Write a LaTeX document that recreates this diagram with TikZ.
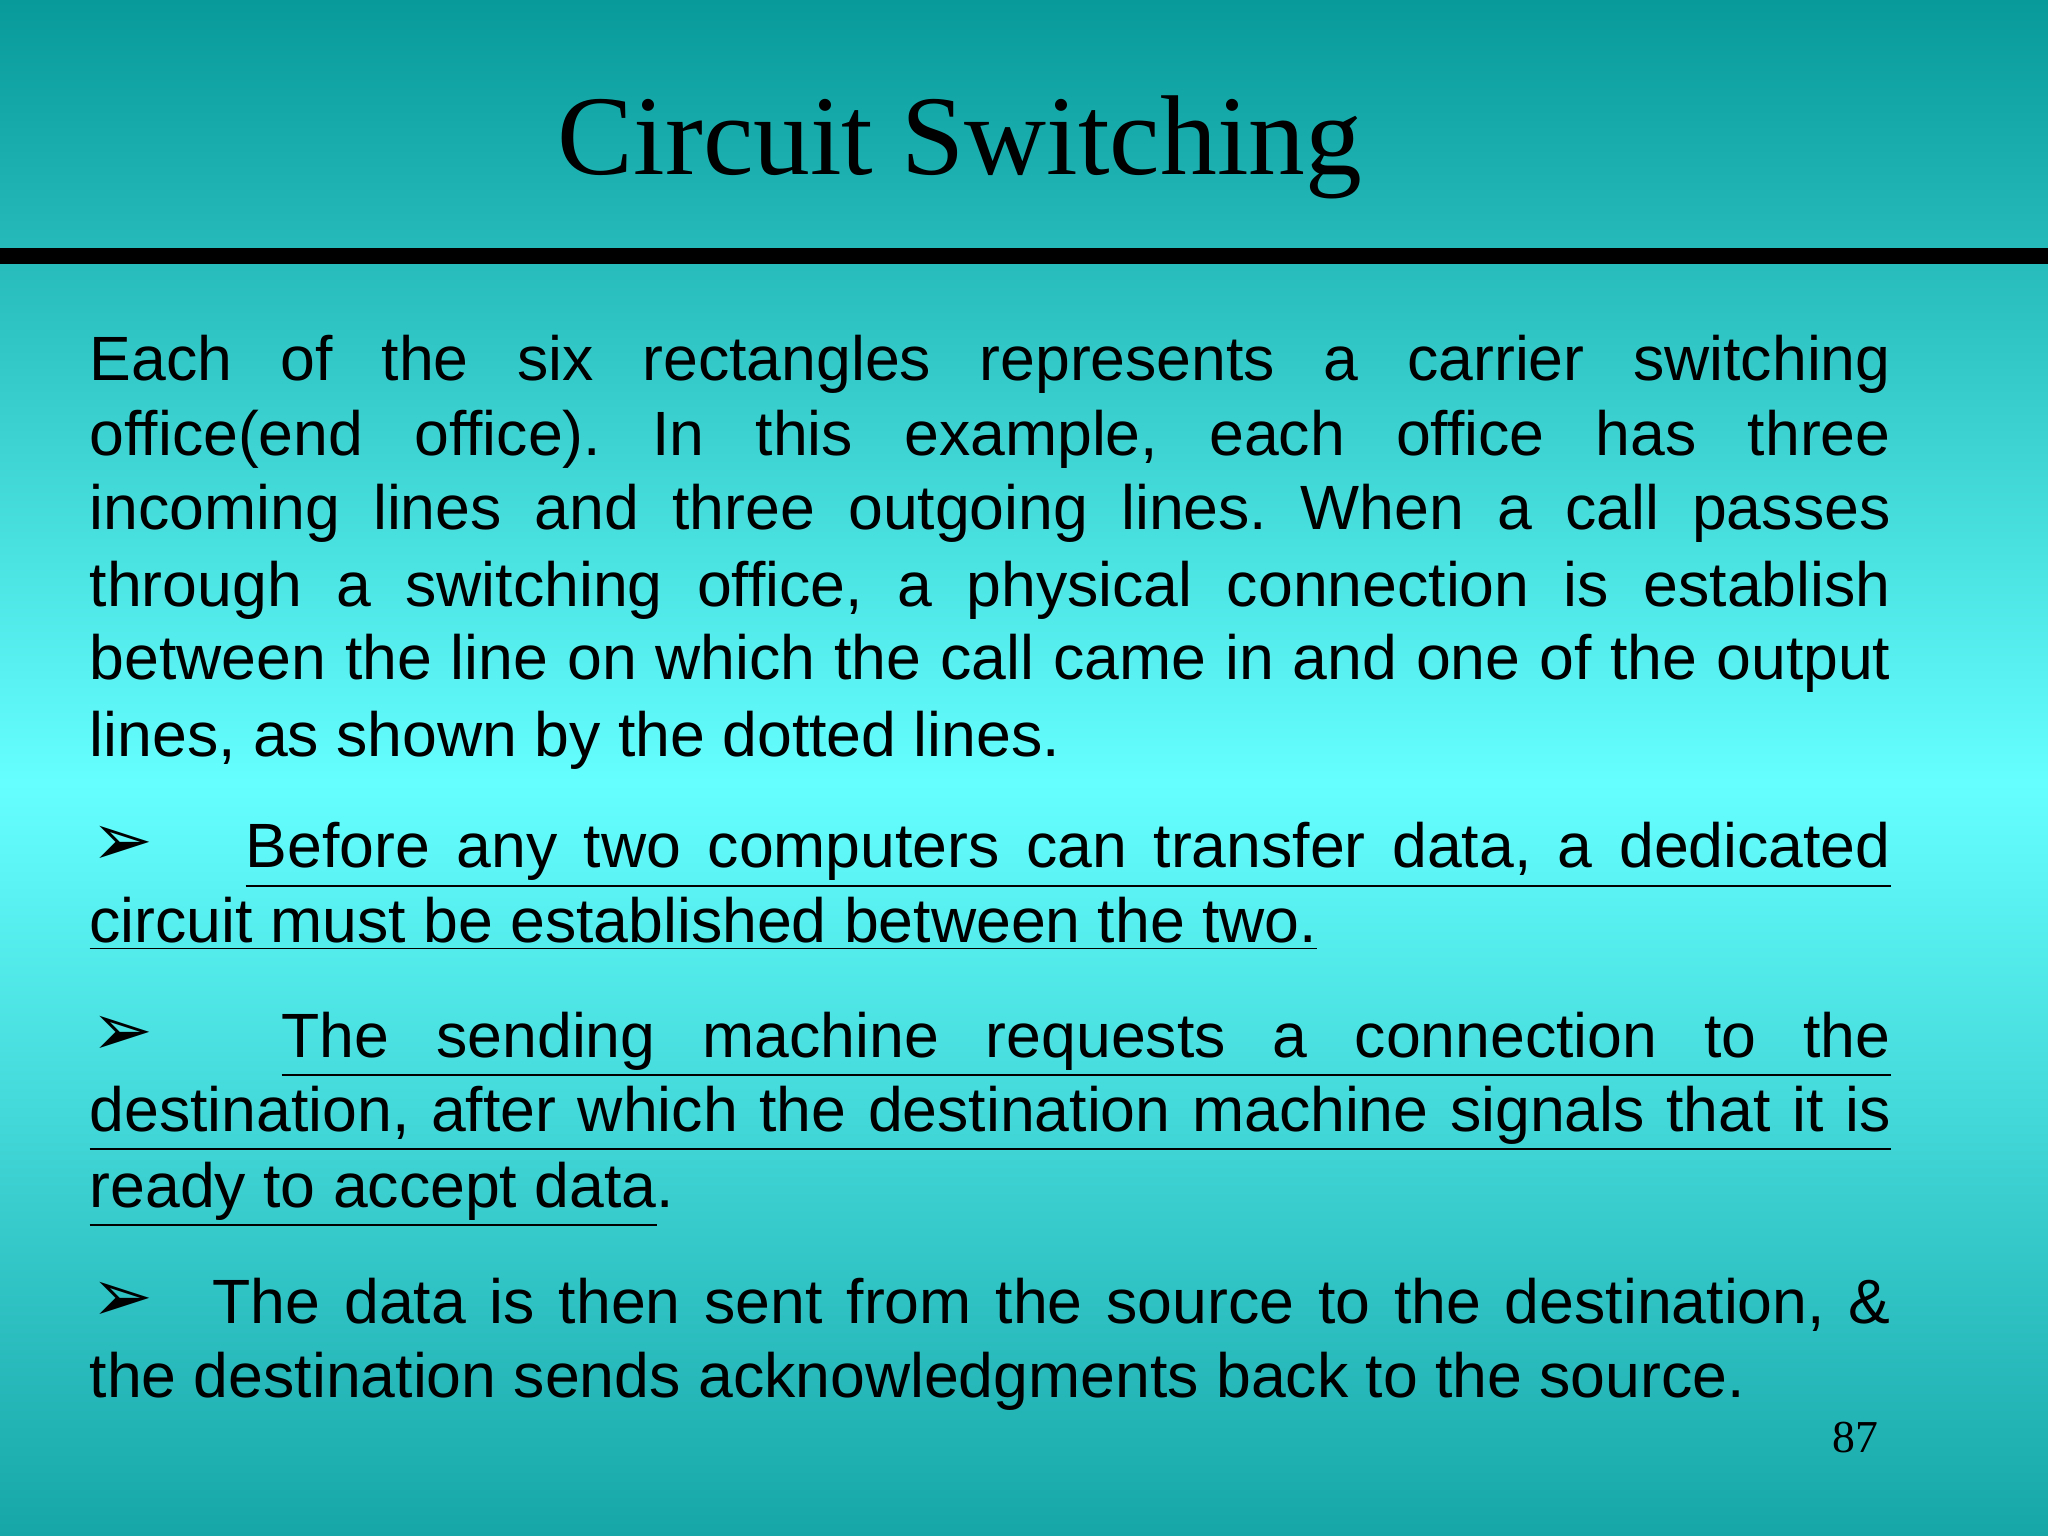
\documentclass[tikz,border=0pt]{standalone}
\usepackage{fontspec}
\setmainfont{Liberation Serif}
\newfontfamily\bodyfont{Liberation Sans}
\newfontfamily\symfont{DejaVu Sans}
\definecolor{topc}{HTML}{089A9A}
\definecolor{midc}{HTML}{66FFFF}
\definecolor{botc}{HTML}{16A6A8}
\tikzset{
  ln/.style={anchor=base west, inner sep=0pt, font=\bodyfont\fontsize{17.8}{20}\selectfont},
  bul/.style={anchor=base west, inner sep=0pt, font=\symfont\bfseries\fontsize{21}{24}\selectfont}
}
\frenchspacing
\newcommand{\jl}[2]{\makebox[#1][s]{#2}}
\newcommand{\ul}[2]{\underline{\makebox[#1][s]{#2}}}
\begin{document}
\begin{tikzpicture}
\useasboundingbox (0,0) rectangle (20.48,-15.36);
\shade[top color=topc, bottom color=midc] (0,0) rectangle (20.48,-7.83);
\shade[top color=midc, bottom color=botc] (0,-7.83) rectangle (20.48,-15.36);
\fill[black] (0,-2.48) rectangle (20.48,-2.64);
\node[anchor=base, inner sep=0pt, font=\fontsize{32.3}{38}\selectfont] (title) at (9.6,-1.75) {Circuit Switching};
\node[ln] (l1) at (0.89,-3.81) {\jl{18.01cm}{Each of the six rectangles represents a carrier switching}};
\node[ln] (l2) at (0.89,-4.56) {\jl{18.01cm}{office(end office). In this example, each office has three}};
\node[ln] (l3) at (0.89,-5.30) {\jl{18.01cm}{incoming lines and three outgoing lines. When a call passes}};
\node[ln] (l4) at (0.89,-6.06) {\jl{18.01cm}{through a switching office, a physical connection is establish}};
\node[ln] (l5) at (0.89,-6.80) {\jl{18.01cm}{between the line on which the call came in and one of the output}};
\node[ln] (l6) at (0.89,-7.56) {lines, as shown by the dotted lines.};
\node[bul] (b1) at (0.91,-8.66) {➢};
\node[ln] (m1) at (2.45,-8.68) {\ul{16.45cm}{Before any two computers can transfer data, a dedicated}};
\node[ln] (m2) at (0.89,-9.43) {\underline{circuit must be established between the two.}};
\node[bul] (b2) at (0.91,-10.55) {➢};
\node[ln] (n1) at (2.81,-10.57) {\ul{16.09cm}{The sending machine requests a connection to the}};
\node[ln] (n2) at (0.89,-11.31) {\ul{18.01cm}{destination, after which the destination machine signals that it is}};
\node[ln] (n3) at (0.89,-12.07) {\underline{ready to accept data}.};
\node[bul] (b3) at (0.91,-13.21) {➢};
\node[ln] (o1) at (2.12,-13.23) {\jl{16.78cm}{The data is then sent from the source to the destination, \&}};
\node[ln] (o2) at (0.89,-13.97) {the destination sends acknowledgments back to the source.};
\node[anchor=base, inner sep=0pt, font=\fontsize{13}{15}\selectfont] (pg) at (18.55,-14.52) {87};
\end{tikzpicture}
\end{document}
